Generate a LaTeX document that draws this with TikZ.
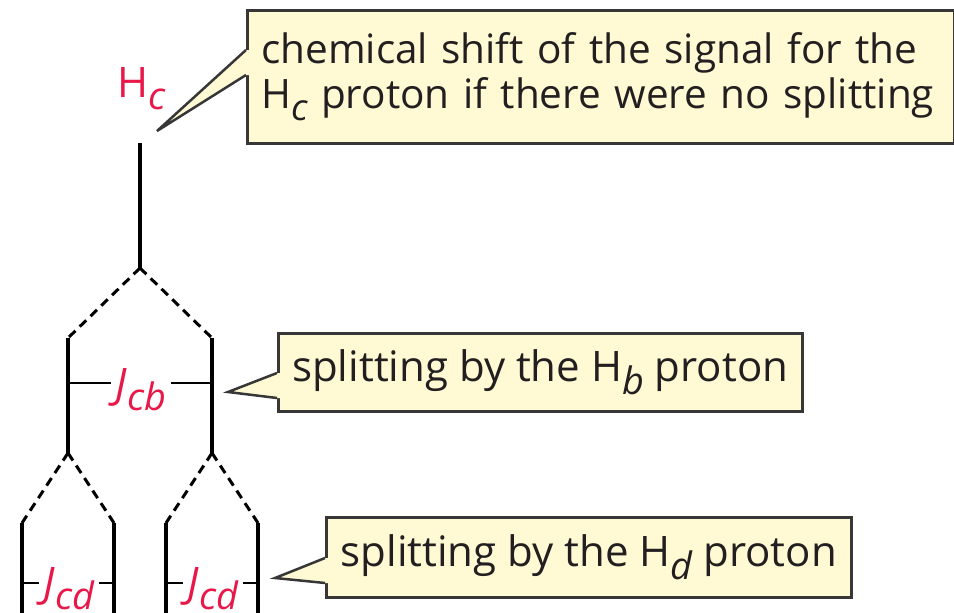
\documentclass[tikz,border=0pt]{standalone}
\usepackage{fontspec}
\setmainfont{Open Sans}
\usepackage{xcolor}
\usetikzlibrary{math,calc}
\definecolor{jred}{RGB}{232,24,72}
\definecolor{boxfill}{RGB}{255,250,212}
\definecolor{boxline}{RGB}{55,55,55}
\definecolor{ink}{RGB}{35,31,32}
\newcommand{\sbs}[1]{\raisebox{-0.3em}{\fontsize{0.9em}{1em}\selectfont\itshape #1}}

\begin{document}
\begin{tikzpicture}[x=1pt,y=-1pt,
  every node/.style={font=\fontsize{42}{46}\selectfont, inner sep=0pt, text=ink},
  peak/.style={line width=4},
  branch/.style={line width=3, dash pattern=on 9pt off 6pt},
  jline/.style={line width=2},
  jlabel/.style={text=jred, fill=white, inner xsep=5pt, inner ysep=0pt, anchor=base},
  callbox/.style={fill=boxfill, draw=boxline, line width=2.5, anchor=north west},
  pointer/.style={draw=boxline, line width=2.5, line join=miter}]
\useasboundingbox (0,0) rectangle (954,613);
\clip (0,0) rectangle (954,613);
\tikzmath{
\w=25;
}

\coordinate (top) at (140,143);
\coordinate (fork) at (140,268);
\coordinate (l) at (68,338);
\coordinate (r) at (212,338);
\coordinate (lend) at (68,453);
\coordinate (rend) at (212,453);
\coordinate (ll) at (22,523);
\coordinate (lr) at (114,523);
\coordinate (rl) at (166,523);
\coordinate (rr) at (258,523);

\draw[peak] (top) -- (fork);
\draw[branch] (fork) -- (l);
\draw[branch] (fork) -- (r);
\draw[peak] (l) -- (lend);
\draw[peak] (r) -- (rend);
\foreach \a/\b in {lend/ll, lend/lr, rend/rl, rend/rr}
  \draw[branch] (\a) -- (\b);
\foreach \c in {ll,lr,rl,rr}
  \draw[peak] (\c) -- ($(\c)+(0,100)$);

\node[text=jred, anchor=base] (hc) at (142,97) {H\sbs{c}};

\draw[jline] (l |- 0,383) -- (r |- 0,383);
\node[jlabel] (jcb) at (141,398) {\textit{J}\sbs{cb}};
\draw[jline] (ll |- 0,583) -- (lr |- 0,583);
\node[jlabel] (jcdl) at (69,597) {\textit{J}\sbs{cd}};
\draw[jline] (rl |- 0,583) -- (rr |- 0,583);
\node[jlabel] (jcdr) at (213,597) {\textit{J}\sbs{cd}};

\node[callbox, font=\fontsize{40.5}{45}\selectfont, text width=679pt, inner xsep=14pt,
  minimum height=133, align=left] (shiftbox) at (246,9)
  {\mbox{chemical shift of the signal for the}\\ \mbox{H\sbs{c} proton if there were no splitting}};
\node[callbox, minimum width=524, minimum height=78] (hbbox) at (277,332)
  {splitting by the H\sbs{b} proton};
\node[callbox, minimum width=525, minimum height=80] (hdbox) at (325,516)
  {splitting by the H\sbs{d} proton};

\coordinate (shifttip) at (157,131);
\coordinate (hbtip) at (228,392);
\coordinate (hdtip) at (275,578);
\foreach \b/\t/\o in {shiftbox/shifttip/41, hbbox/hbtip/41, hdbox/hdtip/42} {
  \fill[boxfill] ($(\b.north west)+(3,\o)$) -- ($(\b.north west)+(0,\o)$) -- (\t)
    -- ($(\b.north west)+(0,\o+\w)$) -- ($(\b.north west)+(3,\o+\w)$) -- cycle;
  \draw[pointer] ($(\b.north west)+(0,\o)$) -- (\t) -- ($(\b.north west)+(0,\o+\w)$);
}
\end{tikzpicture}
\end{document}
